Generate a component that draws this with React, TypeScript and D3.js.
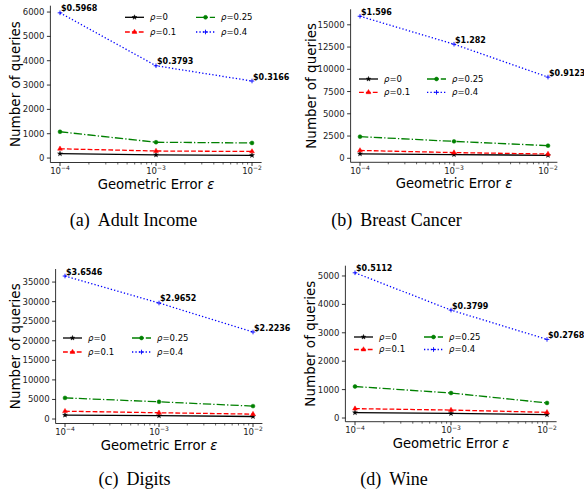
import React from 'react';
import * as d3 from 'd3';

const W = 584;
const H = 495;

// ---------- data ----------
const epsilons = [1e-4, 1e-3, 1e-2];
const rhoNames = ['0', '0.1', '0.25', '0.4'];

const adultRho0 = [180, 130, 110];
const adultRho01 = [380, 290, 270];
const adultRho025 = [1080, 650, 620];
const adultRho04 = [5968, 3793, 3166];
const adultCost = ['$0.5968', '$0.3793', '$0.3166'];

const cancerRho0 = [500, 420, 330];
const cancerRho01 = [880, 640, 480];
const cancerRho025 = [2430, 1900, 1420];
const cancerRho04 = [15960, 12820, 9123];
const cancerCost = ['$1.596', '$1.282', '$0.9123'];

const digitsRho0 = [1000, 850, 650];
const digitsRho01 = [2000, 1600, 1250];
const digitsRho025 = [5400, 4400, 3300];
const digitsRho04 = [36546, 29652, 22236];
const digitsCost = ['$3.6546', '$2.9652', '$2.2236'];

const wineRho0 = [190, 160, 120];
const wineRho01 = [330, 280, 200];
const wineRho025 = [1110, 880, 530];
const wineRho04 = [5112, 3799, 2768];
const wineCost = ['$0.5112', '$0.3799', '$0.2768'];

const adultTicks = [0, 1000, 2000, 3000, 4000, 5000, 6000];
const cancerTicks = [0, 2500, 5000, 7500, 10000, 12500, 15000];
const digitsTicks = [0, 5000, 10000, 15000, 20000, 25000, 30000, 35000];
const wineTicks = [0, 1000, 2000, 3000, 4000, 5000];

const xTickExps = [-4, -3, -2];

// ---------- styles ----------
const seriesStyles = [
  { color: '#000000', dash: 'none', marker: 'star' },
  { color: '#ff0000', dash: '4.8,2.1', marker: 'tri' },
  { color: '#008000', dash: '8.3,2.1,1.3,2.1', marker: 'circle' },
  { color: '#0000ff', dash: '1.3,2.1', marker: 'plus' },
];

const SANS = 'DejaVu Sans, sans-serif';
const SERIF = 'Liberation Serif, Times New Roman, serif';

function Marker({ kind, x, y, color }: { kind: string; x: number; y: number; color: string }) {
  if (kind === 'plus') {
    const r = 2.3;
    return (
      <g stroke={color} strokeWidth={0.9}>
        <line x1={x - r} x2={x + r} y1={y} y2={y} />
        <line x1={x} x2={x} y1={y - r} y2={y + r} />
      </g>
    );
  }
  const type = kind === 'star' ? d3.symbolStar : kind === 'tri' ? d3.symbolTriangle : d3.symbolCircle;
  const size = kind === 'star' ? 7 : kind === 'tri' ? 10 : 12;
  const p = d3.symbol().type(type).size(size)() as string;
  return <path d={p} transform={`translate(${x},${y})`} fill={color} stroke={color} strokeWidth={0.5} />;
}

type PanelProps = {
  series: number[][];
  costs: string[];
  yTicks: number[];
  xRange: [number, number];
  yRange: [number, number];
  legend: { x: number; y: number; colDx: number; rowDy: number };
  yLabelX: number;
  caption: { x: number; y: number; tag: string; name: string };
};

function Panel({ series, costs, yTicks, xRange, yRange, legend, yLabelX, caption }: PanelProps) {
  const all = series.flat();
  const lo = d3.min(all) as number;
  const hi = d3.max(all) as number;
  const m = (hi - lo) * 0.05;
  const y = d3.scaleLinear().domain([lo - m, hi + m]).range(yRange);
  const x = d3.scaleLog().domain([Math.pow(10, -4.1), Math.pow(10, -1.9)]).range(xRange);
  const line = d3
    .line<number>()
    .x((_, i) => x(epsilons[i]))
    .y((d) => y(d));

  const minorTicks: number[] = [];
  for (let e = -4; e < -2; e++) {
    for (let k = 2; k <= 9; k++) minorTicks.push(k * Math.pow(10, e));
  }
  const x0 = xRange[0];
  const x1 = xRange[1];
  const yb = yRange[0];
  const yt = yRange[1];
  const fs = 8.5;
  const top = series[3];

  return (
    <g>
      {/* lines */}
      {series.map((s, si) => (
        <path
          key={'l' + si}
          d={line(s) as string}
          fill="none"
          stroke={seriesStyles[si].color}
          strokeWidth={1.3}
          strokeDasharray={seriesStyles[si].dash}
        />
      ))}
      {series.map((s, si) =>
        s.map((v, i) => (
          <Marker key={'m' + si + '-' + i} kind={seriesStyles[si].marker} x={x(epsilons[i])} y={y(v)} color={seriesStyles[si].color} />
        ))
      )}
      {/* annotations */}
      {top.map((v, i) => (
        <text
          key={'a' + i}
          x={x(epsilons[i]) + 1}
          y={y(v) - 1.5}
          fontFamily={SANS}
          fontWeight="bold"
          fontSize={8}
          fill="#000"
        >
          {costs[i]}
        </text>
      ))}
      {/* spines */}
      <line x1={x0} x2={x0} y1={yb} y2={yt} stroke="#000" strokeWidth={0.8} />
      <line x1={x0} x2={x1} y1={yb} y2={yb} stroke="#000" strokeWidth={0.8} />
      {/* y ticks */}
      {yTicks.map((t) => (
        <g key={'yt' + t}>
          <line x1={x0 - 3.5} x2={x0} y1={y(t)} y2={y(t)} stroke="#000" strokeWidth={0.8} />
          <text x={x0 - 6} y={y(t)} dy="0.35em" textAnchor="end" fontFamily={SANS} fontSize={fs} fill="#222">
            {t}
          </text>
        </g>
      ))}
      {/* x ticks */}
      {xTickExps.map((e) => {
        const px = x(Math.pow(10, e));
        return (
          <g key={'xt' + e}>
            <line x1={px} x2={px} y1={yb} y2={yb + 3.5} stroke="#000" strokeWidth={0.8} />
            <text x={px} y={yb + 11.5} textAnchor="middle" fontFamily={SANS} fontSize={fs} fill="#222">
              10
              <tspan dy={-3.6} fontSize={6}>
                {'\u2212' + Math.abs(e)}
              </tspan>
            </text>
          </g>
        );
      })}
      {minorTicks.map((t, i) => (
        <line key={'mt' + i} x1={x(t)} x2={x(t)} y1={yb} y2={yb + 2} stroke="#000" strokeWidth={0.6} />
      ))}
      {/* axis labels */}
      <text x={(x0 + x1) / 2} y={yb + 21.5} dy="0.35em" textAnchor="middle" fontFamily={SANS} fontSize={13.2} fill="#000">
        Geometric Error <tspan fontStyle="italic">ε</tspan>
      </text>
      <text
        transform={`translate(${yLabelX},${(yb + yt) / 2}) rotate(-90)`}
        dy="0.35em"
        textAnchor="middle"
        fontFamily={SANS}
        fontSize={13.5}
        fill="#000"
      >
        Number of queries
      </text>
      {/* legend */}
      {rhoNames.map((r, i) => {
        const col = i < 2 ? 0 : 1;
        const row = i % 2;
        const lx = legend.x + col * legend.colDx;
        const ly = legend.y + row * legend.rowDy;
        const st = seriesStyles[i];
        return (
          <g key={'lg' + i}>
            <line x1={lx} x2={lx + 19} y1={ly} y2={ly} stroke={st.color} strokeWidth={1.3} strokeDasharray={st.dash} />
            <Marker kind={st.marker} x={lx + 9.5} y={ly} color={st.color} />
            <text x={lx + 25} y={ly} dy="0.35em" fontFamily={SANS} fontSize={fs} fill="#000">
              <tspan fontStyle="italic">ρ</tspan>={r}
            </text>
          </g>
        );
      })}
      {/* caption */}
      <text x={caption.x} y={caption.y} textAnchor="middle" fontFamily={SERIF} fontSize={18} fill="#000">
        {caption.tag}
        <tspan dx={8}>{caption.name}</tspan>
      </text>
    </g>
  );
}

export default function App() {
  return (
    <svg width={W} height={H} viewBox={`0 0 ${W} ${H}`} style={{ display: 'block', position: 'absolute', left: 0, top: 0, background: '#fff' }}>
      <rect width={W} height={H} fill="#fff" />
      <Panel
        series={[adultRho0, adultRho01, adultRho025, adultRho04]}
        costs={adultCost}
        yTicks={adultTicks}
        xRange={[50.4, 261.6]}
        yRange={[162.5, 5.7]}
        legend={{ x: 125, y: 17.3, colDx: 71, rowDy: 14.7 }}
        yLabelX={15}
        caption={{ x: 133.5, y: 226, tag: '(a)', name: 'Adult Income' }}
      />
      <Panel
        series={[cancerRho0, cancerRho01, cancerRho025, cancerRho04]}
        costs={cancerCost}
        yTicks={cancerTicks}
        xRange={[350.6, 557.4]}
        yRange={[162.3, 9.3]}
        legend={{ x: 359, y: 79, colDx: 68, rowDy: 13.3 }}
        yLabelX={311}
        caption={{ x: 396.5, y: 226, tag: '(b)', name: 'Breast Cancer' }}
      />
      <Panel
        series={[digitsRho0, digitsRho01, digitsRho025, digitsRho04]}
        costs={digitsCost}
        yTicks={digitsTicks}
        xRange={[55.6, 262.4]}
        yRange={[423.5, 269]}
        legend={{ x: 63, y: 338, colDx: 69, rowDy: 14 }}
        yLabelX={15}
        caption={{ x: 134.5, y: 485, tag: '(c)', name: 'Digits' }}
      />
      <Panel
        series={[wineRho0, wineRho01, wineRho025, wineRho04]}
        costs={wineCost}
        yTicks={wineTicks}
        xRange={[345.4, 556.6]}
        yRange={[421.7, 265.7]}
        legend={{ x: 354, y: 337, colDx: 70, rowDy: 12.5 }}
        yLabelX={310}
        caption={{ x: 394, y: 485, tag: '(d)', name: 'Wine' }}
      />
    </svg>
  );
}
